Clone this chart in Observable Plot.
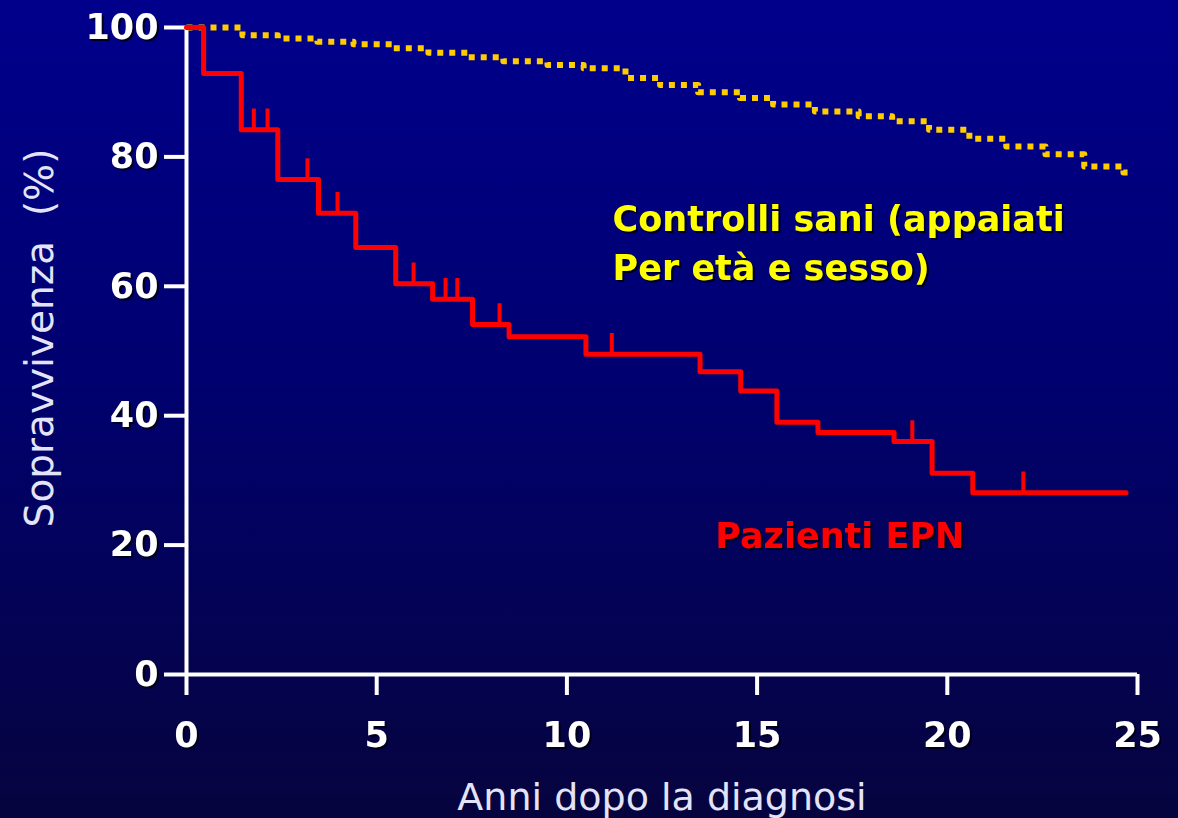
<!DOCTYPE html>
<html>
<head>
<meta charset="utf-8">
<script src="https://cdn.jsdelivr.net/npm/d3@7"></script>
<script src="https://cdn.jsdelivr.net/npm/@observablehq/plot@0.6"></script>
<style>
  html, body { margin: 0; padding: 0; background: #06043e; }
  #chart svg { display: block; }
  .shadow text { filter: drop-shadow(2px 2px 0 rgba(0, 0, 20, 0.9)); }
  .pre text { white-space: pre; }
</style>
</head>
<body>
<div id="chart"></div>
<script>
// Kaplan–Meier survival: EPN patients vs age/sex matched healthy controls

// EPN patients: step times (years) and survival (%) after each step
const epnTime = [0, 0.45, 1.44, 2.4, 3.47, 4.45, 5.5, 6.47, 7.52, 8.48, 10.5, 13.5, 14.57, 15.52, 16.6, 18.6, 19.6, 20.67, 24.7];
const epnSurv = [100, 92.9, 84.2, 76.5, 71.3, 66.0, 60.4, 58.0, 54.1, 52.2, 49.5, 46.8, 43.8, 39.0, 37.4, 36.0, 31.1, 28.1, 28.1];
// censored observations (years)
const epnCensored = [1.77, 2.13, 3.18, 3.97, 5.97, 6.81, 7.12, 8.23, 11.18, 19.08, 22.0];

// Healthy controls
const ctrlTime = [0, 1.47, 2.4, 3.44, 4.39, 5.44, 6.36, 7.41, 8.33, 9.49, 10.44, 11.54, 12.45, 13.45, 14.55, 15.42, 16.52, 17.67, 18.55, 19.52, 20.58, 21.55, 22.58, 23.6, 24.63, 24.8];
const ctrlSurv = [100, 98.8, 98.3, 97.8, 97.4, 96.8, 96.1, 95.4, 94.8, 94.2, 93.7, 92.2, 91.1, 90.0, 89.1, 88.1, 87.0, 86.3, 85.5, 84.2, 82.8, 81.6, 80.4, 78.5, 77.6, 77.6];

const xTicks = [0, 5, 10, 15, 20, 25];
const yTicks = [0, 20, 40, 60, 80, 100];

const epn = epnTime.map((t, i) => ({t, s: epnSurv[i]}));
const ctrl = ctrlTime.map((t, i) => ({t, s: ctrlSurv[i]}));

// survival of the EPN curve at time t (step function)
const epnAt = t => {
  let s = epnSurv[0];
  for (let i = 0; i < epnTime.length; i++) if (epnTime[i] <= t) s = epnSurv[i];
  return s;
};
const censorMarks = epnCensored.map(t => ({t, s: epnAt(t), top: epnAt(t) + 3.2}));

const font = "'DejaVu Sans', Verdana, sans-serif";
const axisColor = "#ffffff";
const titleColor = "#e4e4f8";

const chart = Plot.plot({
  width: 1178,
  height: 818,
  marginLeft: 186,
  marginRight: 41,
  marginTop: 27,
  marginBottom: 144,
  style: {
    background: "linear-gradient(180deg, #00008c 0%, #000070 45%, #06043e 100%)",
    fontFamily: font,
    overflow: "visible"
  },
  x: {domain: [0, 25]},
  y: {domain: [0, 100]},
  marks: [
    // axes
    Plot.axisY({
      ticks: yTicks, tickSize: 22, tickPadding: 6, stroke: axisColor, strokeWidth: 4,
      fill: "white", fontSize: 35, fontWeight: "bold", label: null, className: "shadow"
    }),
    Plot.axisX({
      ticks: xTicks, tickSize: 21, tickPadding: 27, stroke: axisColor, strokeWidth: 4,
      fill: "white", fontSize: 35, fontWeight: "bold", label: null, className: "shadow"
    }),
    Plot.ruleX([0], {y1: 0, y2: 100, stroke: axisColor, strokeWidth: 4}),
    Plot.ruleY([0], {x1: 0, x2: 25, stroke: axisColor, strokeWidth: 4}),

    // healthy controls: dotted step curve
    Plot.line(ctrl, {
      x: "t", y: "s", curve: "step-after",
      stroke: "#ffcc00", strokeWidth: 6, strokeDasharray: "6,6", strokeLinecap: "butt"
    }),

    // EPN patients: solid step curve with censoring ticks
    Plot.line(epn, {
      x: "t", y: "s", curve: "step-after",
      stroke: "#ff0000", strokeWidth: 5, strokeLinejoin: "round"
    }),
    Plot.ruleX(censorMarks, {x: "t", y1: "s", y2: "top", stroke: "#ff0000", strokeWidth: 4}),

    // series labels
    Plot.text([{x: 11.2, y: 67.2, label: "Controlli sani (appaiati\nPer età e sesso)"}], {
      x: "x", y: "y", text: "label", textAnchor: "start", lineAnchor: "middle",
      lineHeight: 1.42, fill: "#ffff00", fontSize: 35, fontWeight: "bold",
      fontFamily: font, className: "shadow"
    }),
    Plot.text([{x: 13.9, y: 21.3, label: "Pazienti EPN"}], {
      x: "x", y: "y", text: "label", textAnchor: "start", lineAnchor: "middle",
      fill: "#ff0000", fontSize: 35, fontWeight: "bold",
      fontFamily: font, className: "shadow"
    }),

    // axis titles
    Plot.text(["Anni dopo la diagnosi"], {
      frameAnchor: "bottom", lineAnchor: "middle", textAnchor: "middle", dy: 123,
      fill: titleColor, fontSize: 38, fontFamily: font
    }),
    Plot.text(["Sopravvivenza  (%)"], {
      frameAnchor: "left", lineAnchor: "middle", textAnchor: "middle", rotate: -90,
      dx: -146, dy: -13, fill: titleColor, fontSize: 39, fontFamily: font, className: "pre"
    })
  ]
});

document.getElementById("chart").appendChild(chart);
</script>
</body>
</html>
